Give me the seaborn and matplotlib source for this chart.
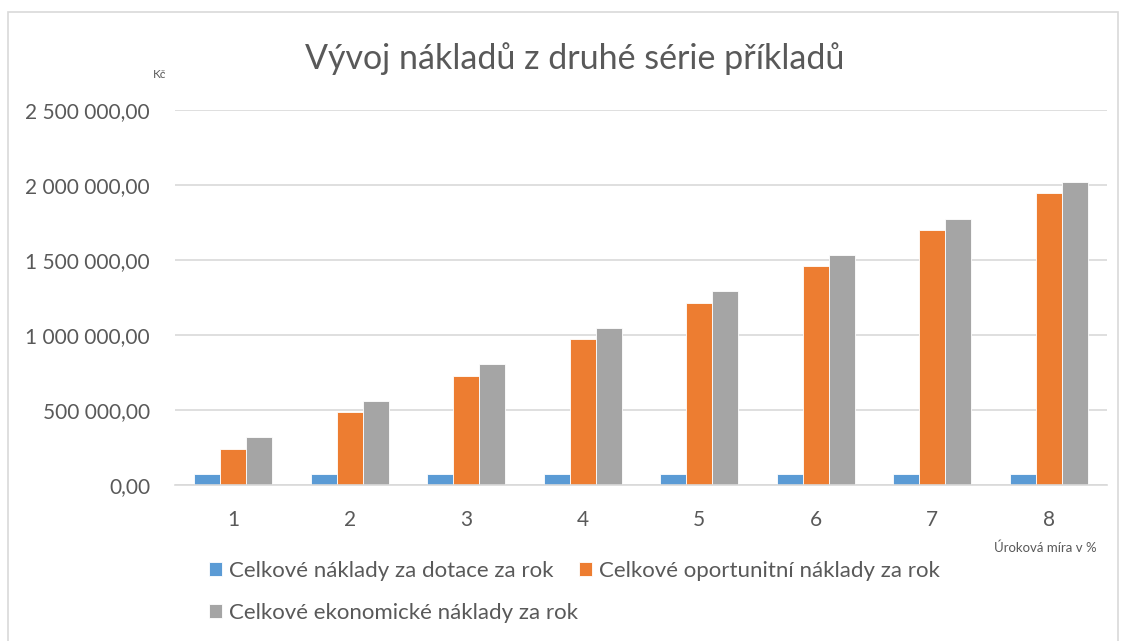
import matplotlib

matplotlib.use("Agg")

import matplotlib.pyplot as plt
import pandas as pd
import seaborn as sns
from matplotlib.patches import Rectangle
from matplotlib.ticker import FuncFormatter


TITLE = "Vývoj nákladů z druhé série příkladů"
CATEGORIES = ["1", "2", "3", "4", "5", "6", "7", "8"]
SERIES_NAMES = [
	"Celkové náklady za dotace za rok",
	"Celkové oportunitní náklady za rok",
	"Celkové ekonomické náklady za rok",
]
DOTACE = [75000, 75000, 75000, 75000, 75000, 75000, 75000, 75000]
OPORTUNITNI = [243000, 486000, 729000, 972000, 1215000, 1458000, 1701000, 1944000]
EKONOMICKE = [318000, 561000, 804000, 1047000, 1290000, 1533000, 1776000, 2019000]
Y_TICKS = [0, 500000, 1000000, 1500000, 2000000, 2500000]
COLORS = ["#5B9BD5", "#ED7D31", "#A5A5A5"]
TEXT_COLOR = "#595959"


def czech_number(value: float, _pos=None) -> str:
	return f"{value:,.2f}".replace(",", " ").replace(".", ",")


def build_frame() -> pd.DataFrame:
	rows = []
	for name, values in zip(SERIES_NAMES, [DOTACE, OPORTUNITNI, EKONOMICKE]):
		for cat, val in zip(CATEGORIES, values):
			rows.append({"rate": cat, "series": name, "value": val})
	return pd.DataFrame(rows)


def main() -> None:
	sns.set_theme(style="white")
	plt.rcParams["font.family"] = ["Lato", "DejaVu Sans"]

	df = build_frame()

	fig = plt.figure(figsize=(11.24, 6.41), dpi=100)
	ax = fig.add_axes([0.1557, 0.2434, 0.985 - 0.1557, 0.8284 - 0.2434])

	sns.barplot(
		data=df,
		x="rate",
		y="value",
		hue="series",
		order=CATEGORIES,
		hue_order=SERIES_NAMES,
		palette=COLORS,
		width=0.67,
		saturation=1,
		edgecolor="white",
		linewidth=0.6,
		ax=ax,
		legend=True,
	)

	ax.set_xlim(-0.5, len(CATEGORIES) - 0.5)
	ax.set_ylim(0, 2500000)
	ax.set_yticks(Y_TICKS)
	ax.yaxis.set_major_formatter(FuncFormatter(czech_number))
	ax.grid(axis="y", color="#D9D9D9", linewidth=1.2)
	ax.set_axisbelow(True)
	for side in ["top", "right", "left"]:
		ax.spines[side].set_visible(False)
	ax.spines["bottom"].set_color("#D9D9D9")
	ax.spines["bottom"].set_linewidth(1.2)
	ax.tick_params(axis="both", length=0, labelsize=15, labelcolor=TEXT_COLOR)
	ax.tick_params(axis="y", pad=18)
	ax.tick_params(axis="x", pad=18)
	ax.set_xlabel("")
	ax.set_ylabel("")

	handles, labels = ax.get_legend_handles_labels()
	ax.get_legend().remove()
	order = [0, 2, 1]
	fig.legend(
		[handles[i] for i in order],
		[labels[i] for i in order],
		loc="upper left",
		bbox_to_anchor=(0.168, 0.156),
		ncol=2,
		frameon=False,
		fontsize=16,
		labelcolor=TEXT_COLOR,
		handlelength=0.6,
		handleheight=0.6,
		handletextpad=0.3,
		columnspacing=0.05,
		labelspacing=1.0,
	)

	fig.text(0.5116, 0.909, TITLE, ha="center", va="center", fontsize=24.5, color=TEXT_COLOR)
	fig.text(0.142, 0.883, "Kč", ha="center", va="center", fontsize=8.5, color=TEXT_COLOR)
	fig.text(0.976, 0.145, "Úroková míra v %", ha="right", va="center", fontsize=9.5, color=TEXT_COLOR)

	fig.patches.append(
		Rectangle(
			(8 / 1124, -0.01), 1110 / 1124, 1 - 12 / 641 + 0.01,
			transform=fig.transFigure, fill=False, edgecolor="#D9D9D9", linewidth=1.2,
		)
	)

	fig.savefig("out.png", dpi=100)
	plt.close(fig)


if __name__ == "__main__":
	main()
